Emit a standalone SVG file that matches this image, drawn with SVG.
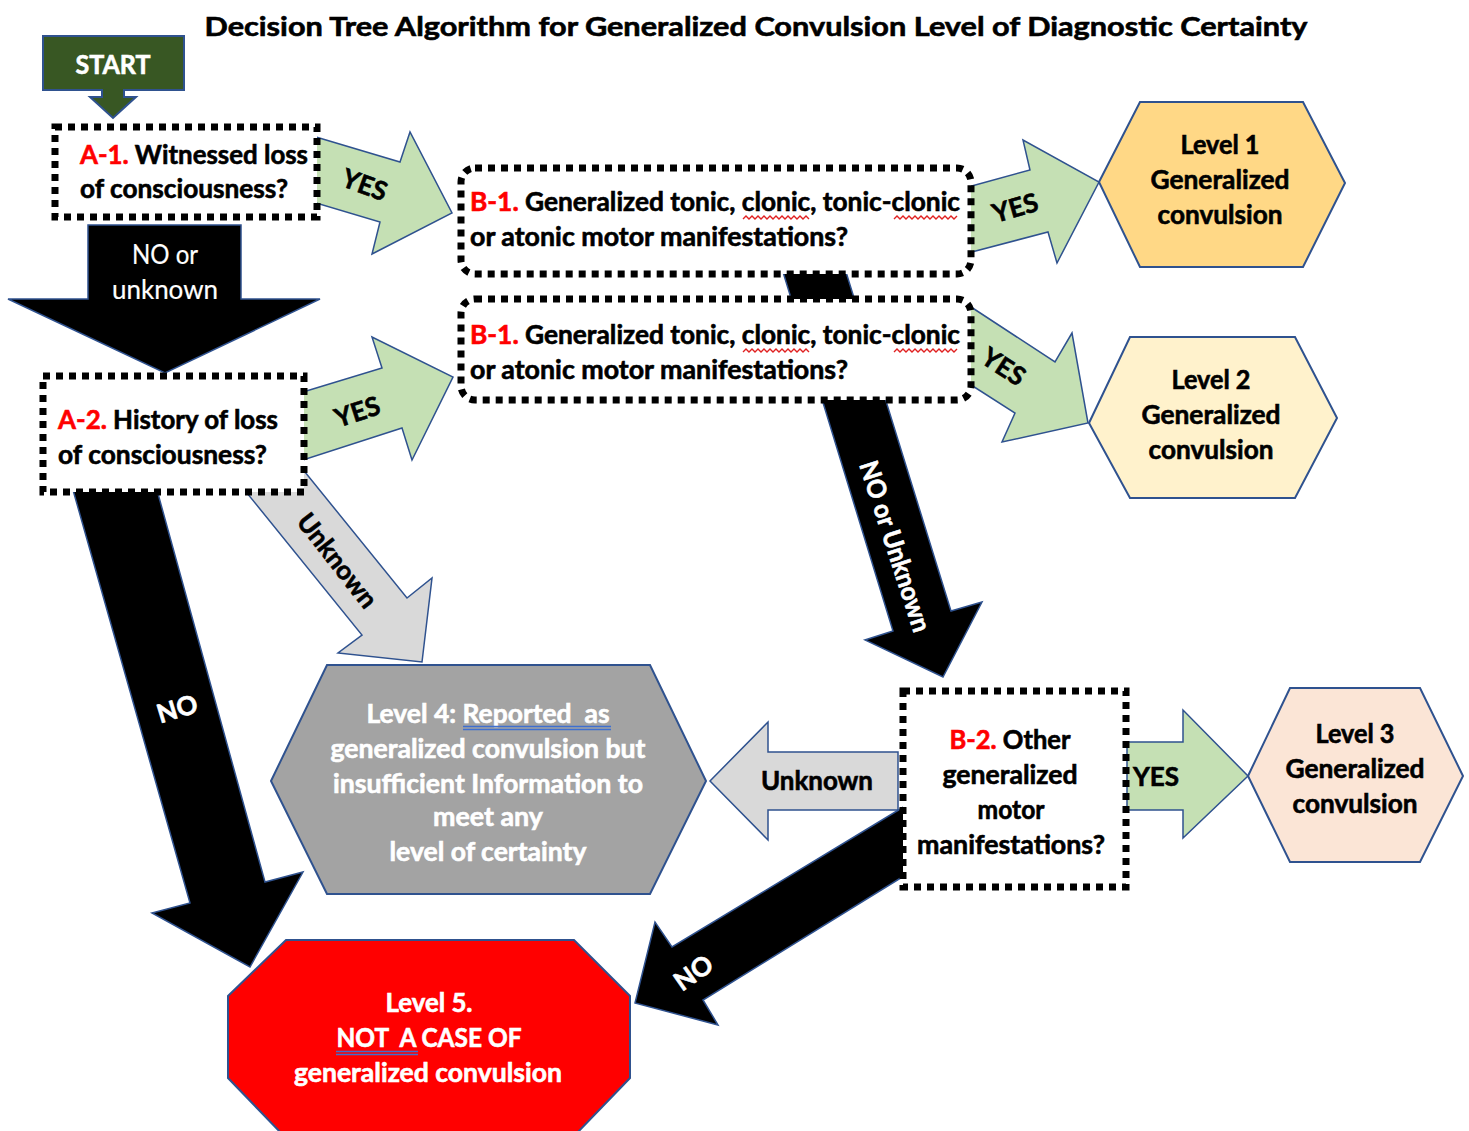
<svg xmlns="http://www.w3.org/2000/svg" width="1469" height="1131" viewBox="0 0 1469 1131">
<style>
text{font-family:Lato,"Open Sans","Liberation Sans",sans-serif;font-weight:bold;font-size:26px;fill:#000;stroke:#000;stroke-width:0.6}
.c{text-anchor:middle}
.w{fill:#fff;stroke:#fff}
.red{fill:#ff0000;stroke:#ff0000}
.reg{font-weight:normal;stroke-width:0.2}
.t{font-size:27px}
.dot{fill:#fff;stroke:#000;stroke-width:7;stroke-dasharray:7 6}
.arw{stroke:#2F528F;stroke-width:1.5;stroke-linejoin:miter}
.g{fill:#C5E0B4}
.k{fill:#000}
.gr{fill:#D9D9D9}
.hex{stroke:#2F528F;stroke-width:2}
.sq{fill:none;stroke:#e02020;stroke-width:1.4}
.dbl{fill:none;stroke:#3f6fd0;stroke-width:1.5}
</style>
<rect width="1469" height="1131" fill="#fff"/>
<text class="c t" x="756" y="36" textLength="1103" lengthAdjust="spacingAndGlyphs">Decision Tree Algorithm for Generalized Convulsion Level of Diagnostic Certainty</text>

<g id="connectors">
  <g id="a1-yes">
    <polygon class="arw g" points="316,137 400,162 410,132 452,213 372,254 380,222 316,203"/>
    <text class="c" transform="translate(365,184) rotate(20)" dominant-baseline="central">YES</text>
  </g>
  <g id="a1-no">
    <polygon class="arw k" points="88,225 241,225 241,299 320,299 165,373 8,299 88,299"/>
    <text class="c w reg" x="165" y="264" textLength="66" lengthAdjust="spacingAndGlyphs">NO or</text>
    <text class="c w reg" x="165" y="299" textLength="106" lengthAdjust="spacingAndGlyphs">unknown</text>
  </g>
  <g id="b1-no">
    <polygon class="arw k" points="783,272 846,272 951,611 982,602 943,677 865,640 893,631"/>
    <text class="c w" transform="translate(896,546) rotate(72)" dominant-baseline="central" textLength="178" lengthAdjust="spacingAndGlyphs">NO or Unknown</text>
  </g>
  <g id="b1-yes">
    <polygon class="arw g" points="968,187 1030,170 1023,140 1099,182 1057,263 1048,232 968,253"/>
    <text class="c" transform="translate(1015,207) rotate(-16)" dominant-baseline="central">YES</text>
  </g>
  <g id="b1b-yes">
    <polygon class="arw g" points="968,305 1055,362 1072,333 1088,423 1002,442 1015,413 968,383"/>
    <text class="c" transform="translate(1004,366) rotate(33)" dominant-baseline="central">YES</text>
  </g>
  <g id="a2-yes">
    <polygon class="arw g" points="303,392 382,368 372,337 453,377 412,460 402,428 303,460"/>
    <text class="c" transform="translate(357,411) rotate(-18)" dominant-baseline="central">YES</text>
  </g>
  <g id="a2-unknown">
    <polygon class="arw gr" points="230,472 275,435 407,598 432,578 422,662 338,653 362,635"/>
    <text class="c" transform="translate(338,560) rotate(52)" dominant-baseline="central">Unknown</text>
  </g>
  <g id="a2-no">
    <polygon class="arw k" points="73,490 157,490 265,882 303,872 250,967 152,913 190,903"/>
    <text class="c w" transform="translate(177,708) rotate(-17)" dominant-baseline="central">NO</text>
  </g>
  <g id="b2-unknown">
    <polygon class="arw gr" points="898,752 768,752 768,722 710,781 768,840 768,810 898,810"/>
    <text class="c" x="817" y="790" textLength="112" lengthAdjust="spacingAndGlyphs">Unknown</text>
  </g>
  <g id="b2-yes">
    <polygon class="arw g" points="1127,742 1183,742 1183,710 1248,776 1183,838 1183,810 1127,810"/>
    <text class="c" x="1156" y="786">YES</text>
  </g>
  <g id="b2-no">
    <polygon class="arw k" points="925,794 672,947 655,922 635,1003 718,1025 703,1000 925,863"/>
    <text class="c w" transform="translate(693,972) rotate(-35)" dominant-baseline="central">NO</text>
  </g>
</g>

<g id="start">
  <path d="M43,36 H184 V90 H124 V97 H136 L113,118 L90,97 H102 V90 H43 Z" fill="#385723" stroke="#2F528F" stroke-width="2"/>
  <text class="c w" x="113" y="74" textLength="75" lengthAdjust="spacingAndGlyphs">START</text>
</g>

<g id="a1">
  <rect class="dot" x="55" y="127" width="262" height="90"/>
  <text x="80" y="164" textLength="228" lengthAdjust="spacingAndGlyphs"><tspan class="red">A-1.</tspan> Witnessed loss</text>
  <text x="80" y="198" textLength="208" lengthAdjust="spacingAndGlyphs">of consciousness?</text>
</g>

<g id="b1-witnessed">
  <rect class="dot" x="461" y="168" width="510" height="106" rx="14"/>
  <text x="470" y="211" textLength="490" lengthAdjust="spacingAndGlyphs"><tspan class="red">B-1.</tspan> Generalized tonic, clonic, tonic-clonic</text>
  <text x="470" y="246" textLength="378" lengthAdjust="spacingAndGlyphs">or atonic motor manifestations?</text>
  <path class="sq" d="M743,219 l3,-3 3,3 3,-3 3,3 3,-3 3,3 3,-3 3,3 3,-3 3,3 3,-3 3,3 3,-3 3,3 3,-3 3,3 3,-3 3,3 3,-3 3,3 3,-3 3,3"/>
  <path class="sq" d="M894,219 l3,-3 3,3 3,-3 3,3 3,-3 3,3 3,-3 3,3 3,-3 3,3 3,-3 3,3 3,-3 3,3 3,-3 3,3 3,-3 3,3 3,-3 3,3 3,-3"/>
</g>

<g id="b1-history">
  <rect class="dot" x="461" y="299" width="510" height="101" rx="14"/>
  <text x="470" y="344" textLength="490" lengthAdjust="spacingAndGlyphs"><tspan class="red">B-1.</tspan> Generalized tonic, clonic, tonic-clonic</text>
  <text x="470" y="379" textLength="378" lengthAdjust="spacingAndGlyphs">or atonic motor manifestations?</text>
  <path class="sq" d="M743,352 l3,-3 3,3 3,-3 3,3 3,-3 3,3 3,-3 3,3 3,-3 3,3 3,-3 3,3 3,-3 3,3 3,-3 3,3 3,-3 3,3 3,-3 3,3 3,-3 3,3"/>
  <path class="sq" d="M894,352 l3,-3 3,3 3,-3 3,3 3,-3 3,3 3,-3 3,3 3,-3 3,3 3,-3 3,3 3,-3 3,3 3,-3 3,3 3,-3 3,3 3,-3 3,3 3,-3"/>
</g>

<g id="a2">
  <rect class="dot" x="43" y="376" width="261" height="116"/>
  <text x="58" y="429" textLength="220" lengthAdjust="spacingAndGlyphs"><tspan class="red">A-2.</tspan> History of loss</text>
  <text x="58" y="464" textLength="209" lengthAdjust="spacingAndGlyphs">of consciousness?</text>
</g>

<g id="level1">
  <polygon class="hex" fill="#FFD886" points="1099,182 1140,102 1303,102 1345,183 1303,267 1140,267"/>
  <text class="c" x="1220" y="154" textLength="79" lengthAdjust="spacingAndGlyphs">Level 1</text>
  <text class="c" x="1220" y="189" textLength="139" lengthAdjust="spacingAndGlyphs">Generalized</text>
  <text class="c" x="1220" y="224" textLength="125" lengthAdjust="spacingAndGlyphs">convulsion</text>
</g>

<g id="level2">
  <polygon class="hex" fill="#FFF2CC" points="1089,423 1130,337 1295,337 1337,418 1295,498 1130,498"/>
  <text class="c" x="1211" y="389" textLength="79" lengthAdjust="spacingAndGlyphs">Level 2</text>
  <text class="c" x="1211" y="424" textLength="139" lengthAdjust="spacingAndGlyphs">Generalized</text>
  <text class="c" x="1211" y="459" textLength="125" lengthAdjust="spacingAndGlyphs">convulsion</text>
</g>

<g id="b2">
  <rect class="dot" x="903" y="691" width="223" height="196"/>
  <text class="c" x="1010" y="749" textLength="121" lengthAdjust="spacingAndGlyphs"><tspan class="red">B-2.</tspan> Other</text>
  <text class="c" x="1010" y="784" textLength="135" lengthAdjust="spacingAndGlyphs">generalized</text>
  <text class="c" x="1011" y="819" textLength="67" lengthAdjust="spacingAndGlyphs">motor</text>
  <text class="c" x="1011" y="854" textLength="188" lengthAdjust="spacingAndGlyphs">manifestations?</text>
</g>

<g id="level3">
  <polygon class="hex" fill="#FBE5D6" points="1248,776 1290,688 1420,688 1463,776 1420,862 1290,862"/>
  <text class="c" x="1355" y="743" textLength="79" lengthAdjust="spacingAndGlyphs">Level 3</text>
  <text class="c" x="1355" y="778" textLength="139" lengthAdjust="spacingAndGlyphs">Generalized</text>
  <text class="c" x="1355" y="813" textLength="125" lengthAdjust="spacingAndGlyphs">convulsion</text>
</g>

<g id="level4">
  <polygon class="hex" fill="#A3A3A3" points="271,781 327,665 650,665 706,781 650,894 327,894"/>
  <text class="c w" x="488" y="723" textLength="243" lengthAdjust="spacingAndGlyphs">Level 4: Reported&#160; as</text>
  <text class="c w" x="488" y="758" textLength="315" lengthAdjust="spacingAndGlyphs">generalized convulsion but</text>
  <text class="c w" x="488" y="793" textLength="310" lengthAdjust="spacingAndGlyphs">insufficient Information to</text>
  <text class="c w" x="488" y="826" textLength="110" lengthAdjust="spacingAndGlyphs">meet any</text>
  <text class="c w" x="488" y="861" textLength="197" lengthAdjust="spacingAndGlyphs">level of certainty</text>
  <path class="dbl" d="M463,726.5 H611 M463,729.5 H611"/>
</g>

<g id="level5">
  <polygon class="hex" fill="#FF0000" points="286,940 574,940 630,996 630,1078 576,1134 282,1134 228,1078 228,996"/>
  <text class="c w" x="429" y="1012" textLength="87" lengthAdjust="spacingAndGlyphs">Level 5.</text>
  <text class="c w" x="429" y="1047" textLength="185" lengthAdjust="spacingAndGlyphs">NOT&#160; A CASE OF</text>
  <text class="c w" x="428" y="1082" textLength="268" lengthAdjust="spacingAndGlyphs">generalized convulsion</text>
  <path class="dbl" d="M336,1051.5 H418 M336,1054.5 H418"/>
</g>
</svg>
